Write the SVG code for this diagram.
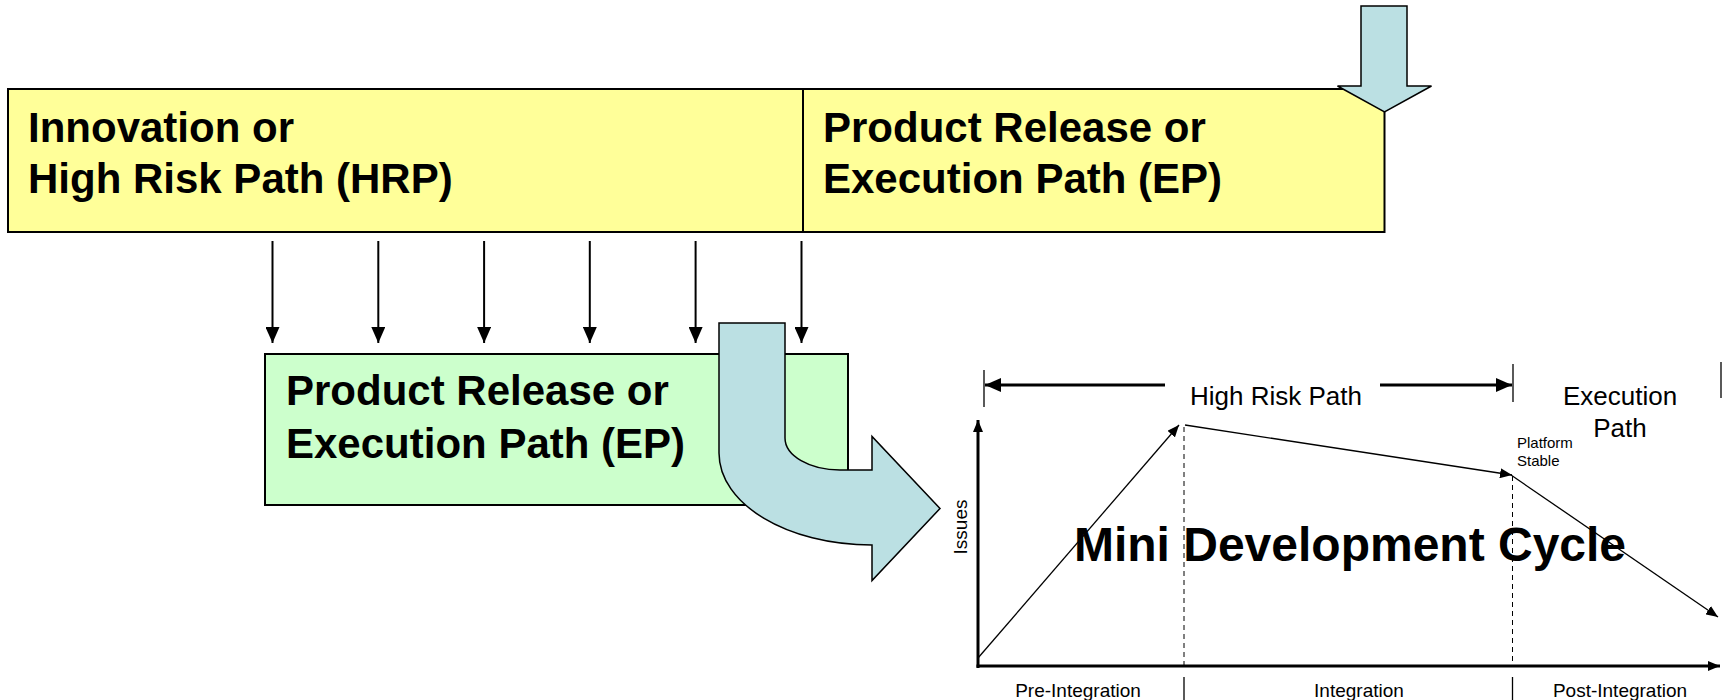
<svg xmlns="http://www.w3.org/2000/svg" width="1723" height="700" viewBox="0 0 1723 700">
<style>
.box{stroke:#000;stroke-width:2}
.big{font-family:"Liberation Sans",Arial,sans-serif;font-weight:bold;font-size:42px;fill:#000}
.reg{font-family:"Liberation Sans",Arial,sans-serif;fill:#000}
.blue{fill:#BBE0E3;stroke:#000;stroke-width:1.5;stroke-linejoin:miter}
.conn{stroke:#000;stroke-width:2;fill:none}
.thin{stroke:#000;stroke-width:1.3;fill:none}
.axis{stroke:#000;stroke-width:3;fill:none}
.dash{stroke:#000;stroke-width:1;stroke-dasharray:5,4;fill:none}
</style>
<defs>
<marker id="ah" viewBox="0 0 16 14" refX="16" refY="7" markerWidth="16" markerHeight="14" markerUnits="userSpaceOnUse" orient="auto"><path d="M0,0 L16,7 L0,14 Z" fill="#000"/></marker>
<marker id="ahs" viewBox="0 0 12 10" refX="12" refY="5" markerWidth="12" markerHeight="10" markerUnits="userSpaceOnUse" orient="auto"><path d="M0,0 L12,5 L0,10 Z" fill="#000"/></marker>
<marker id="ahb" viewBox="0 0 16 14" refX="16" refY="7" markerWidth="16" markerHeight="14" markerUnits="userSpaceOnUse" orient="auto"><path d="M0,0 L16,7 L0,14 Z" fill="#000"/></marker>
</defs>

<g id="hrp-box">
<rect class="box" x="8" y="89" width="795" height="143" fill="#FFFF99"/>
<text class="big" x="28" y="142">Innovation or</text>
<text class="big" x="28" y="193">High Risk Path (HRP)</text>
</g>
<g id="ep-box-top">
<rect class="box" x="803" y="89" width="581.5" height="143" fill="#FFFF99"/>
<text class="big" x="823" y="142">Product Release or</text>
<text class="big" x="823" y="193">Execution Path (EP)</text>
</g>
<g id="down-block-arrow">
<path class="blue" d="M1361,6 L1407,6 L1407,86 L1431.5,86 L1384.5,112 L1337.5,86 L1361,86 Z"/>
</g>

<g id="ep-box">
<rect class="box" x="265" y="354" width="583" height="151" fill="#CCFFCC"/>
<text class="big" x="286" y="405">Product Release or</text>
<text class="big" x="286" y="458">Execution Path (EP)</text>
</g>

<g id="connectors">
<line class="conn" x1="272.5" y1="241" x2="272.5" y2="343" marker-end="url(#ah)"/>
<line class="conn" x1="378.3" y1="241" x2="378.3" y2="343" marker-end="url(#ah)"/>
<line class="conn" x1="484.1" y1="241" x2="484.1" y2="343" marker-end="url(#ah)"/>
<line class="conn" x1="589.8" y1="241" x2="589.8" y2="343" marker-end="url(#ah)"/>
<line class="conn" x1="695.6" y1="241" x2="695.6" y2="343" marker-end="url(#ah)"/>
<line class="conn" x1="801.5" y1="241" x2="801.5" y2="343" marker-end="url(#ah)"/>
</g>

<g id="curved-block-arrow">
<path class="blue" d="M719,323 L719,453 C719,504 787,545 872,545 L872,580.5 L940,508.5 L872,436.5 L872,470 L840,470 C809.6,470 785,455.7 785,438 L785,323 Z"/>
</g>

<g id="chart">
<line class="axis" x1="978" y1="668" x2="978" y2="420" marker-end="url(#ahs)"/>
<line class="axis" x1="976.5" y1="666" x2="1720" y2="666" marker-end="url(#ahs)"/>
<line class="dash" x1="1184" y1="427" x2="1184" y2="666"/>
<line class="dash" x1="1512.5" y1="476" x2="1512.5" y2="666"/>
<line class="thin" x1="1184" y1="677" x2="1184" y2="700"/>
<line class="thin" x1="1512.5" y1="677" x2="1512.5" y2="700"/>
<line class="thin" x1="978" y1="658" x2="1179" y2="425" marker-end="url(#ahs)"/>
<line class="thin" x1="1185" y1="425" x2="1512" y2="475" marker-end="url(#ahs)"/>
<line class="thin" x1="1511" y1="475" x2="1718" y2="617" marker-end="url(#ahs)"/>
<line class="thin" x1="984" y1="370" x2="984" y2="407"/>
<line class="thin" x1="1513" y1="364" x2="1513" y2="402"/>
<line class="thin" x1="1721" y1="362" x2="1721" y2="398"/>
<line class="axis" x1="1165" y1="385" x2="985" y2="385" marker-end="url(#ahb)"/>
<line class="axis" x1="1380" y1="385" x2="1512" y2="385" marker-end="url(#ahb)"/>
<text class="reg" x="1276" y="405" font-size="26" text-anchor="middle">High Risk Path</text>
<text class="reg" x="1620" y="405" font-size="26" text-anchor="middle">Execution</text>
<text class="reg" x="1620" y="437" font-size="26" text-anchor="middle">Path</text>
<text class="reg" x="1517" y="448" font-size="15">Platform</text>
<text class="reg" x="1517" y="466" font-size="15">Stable</text>
<text class="reg" font-size="19" text-anchor="middle" transform="translate(967,527) rotate(-90)">Issues</text>
<text class="reg" x="1078" y="697" font-size="19" text-anchor="middle">Pre-Integration</text>
<text class="reg" x="1359" y="697" font-size="19" text-anchor="middle">Integration</text>
<text class="reg" x="1620" y="697" font-size="19" text-anchor="middle">Post-Integration</text>
<text class="reg" x="1350" y="561" font-size="48" font-weight="bold" text-anchor="middle">Mini Development Cycle</text>
</g>
</svg>
